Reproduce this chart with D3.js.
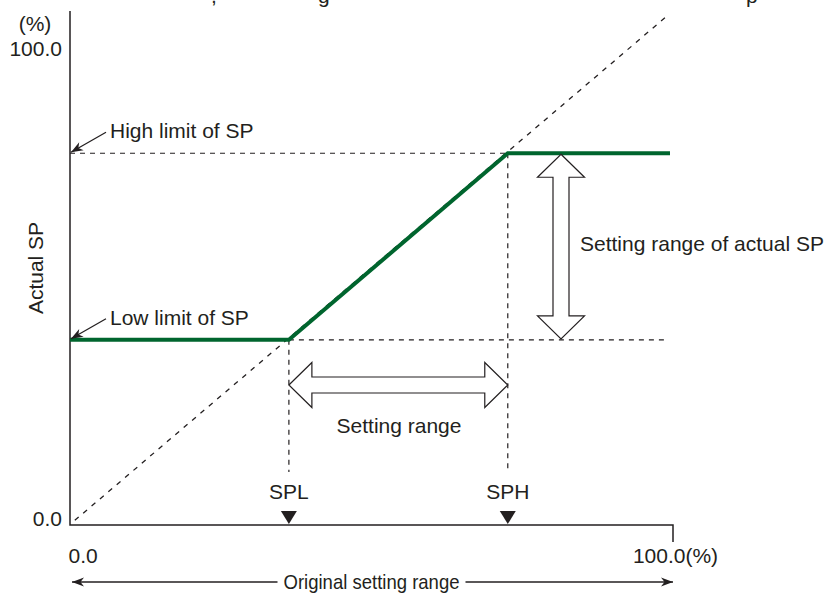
<!DOCTYPE html>
<html><head><meta charset="utf-8">
<script src="https://cdn.jsdelivr.net/npm/d3@7"></script>
<style>
body{margin:0;background:#fff}
svg{display:block;font-family:"Liberation Sans",Arial,Helvetica,sans-serif}
</style>
</head><body>
<svg id="c" width="830" height="593"></svg>
<script>
// ---- data ----
const xTickValues = [0, 100];
const xTickLabels = ["0.0", "100.0(%)"];
const yTickValues = [0, 100];
const yTickLabels = ["0.0", "100.0"];
const spMarkers = ["SPL", "SPH"];
const spValues = [36.3, 72.6];
const limitNames = ["Low limit of SP", "High limit of SP"];
const limitValues = [39.4, 79.1];
const actualSPx = [0, 36.3, 72.6, 99.5];
const actualSPy = [39.4, 39.4, 79.1, 79.1];
const identityX = [0.8, 99.2];
const identityY = [1.0, 108.5];

// ---- layout ----
const ink = "#231f20";
const green = "#00652e";
const svg = d3.select("#c");
const x = d3.scaleLinear().domain([0, 100]).range([70, 673]);
const y = d3.scaleLinear().domain([0, 100]).range([525, 55]);
const fs = 21;

const defs = svg.append("defs");
defs.append("marker").attr("id", "ah").attr("viewBox", "-13 -6 14 12")
  .attr("refX", 0).attr("refY", 0).attr("markerWidth", 14).attr("markerHeight", 12)
  .attr("markerUnits", "userSpaceOnUse").attr("orient", "auto")
  .append("path").attr("d", "M0,0 L-12,-4.5 L-8.5,0 L-12,4.5 Z").attr("fill", ink);

// cut-off text fragments from the line above (only their descenders are visible)
const frag = [[211, ","], [318, "g"], [746, "p"]];
svg.selectAll("text.frag").data(frag).join("text").attr("class", "frag")
  .attr("x", d => d[0]).attr("y", 3).attr("font-size", fs).attr("fill", ink).text(d => d[1]);

// identity diagonal
const line = d3.line().x(d => x(d[0])).y(d => y(d[1]));
svg.append("path").datum(identityX.map((v, i) => [v, identityY[i]]))
  .attr("d", line).attr("fill", "none").attr("stroke", ink).attr("stroke-width", 1.3)
  .attr("stroke-dasharray", "5,6");

// dashed guides
const dash = (x1, y1, x2, y2) => svg.append("line").attr("x1", x1).attr("y1", y1).attr("x2", x2).attr("y2", y2)
  .attr("stroke", ink).attr("stroke-width", 1.2).attr("stroke-dasharray", "5,5");
dash(x(0), y(limitValues[1]), x(spValues[1]), y(limitValues[1]));
dash(x(spValues[0]), y(limitValues[0]), x(98.6), y(limitValues[0]));
spValues.forEach((v, i) => dash(x(v), y(limitValues[i]), x(v), 472));

// axes
const yAxis = svg.append("g").attr("transform", `translate(${x(0)},0)`)
  .call(d3.axisLeft(y).tickValues(yTickValues).tickSize(0).tickPadding(8)
    .tickFormat((d, i) => yTickLabels[i]));
yAxis.select(".domain").remove();
yAxis.selectAll("text").attr("font-size", fs).attr("fill", ink).attr("dy", 0)
  .attr("font-family", "Liberation Sans, Arial, sans-serif");

const xAxis = svg.append("g").attr("transform", `translate(0,${y(0)})`)
  .call(d3.axisBottom(x).tickValues(xTickValues).tickSize(0).tickPadding(0)
    .tickFormat((d, i) => xTickLabels[i]));
xAxis.select(".domain").remove();
xAxis.selectAll("text").attr("font-size", fs).attr("fill", ink).attr("dy", 0)
  .attr("y", 38).attr("font-family", "Liberation Sans, Arial, sans-serif")
  .attr("text-anchor", (d, i) => i === 0 ? "start" : "middle")
  .attr("dx", (d, i) => i === 0 ? -2 : 2);

svg.append("path")
  .attr("d", `M${x(0)},11 V${y(0)} H${x(100)} V542`)
  .attr("fill", "none").attr("stroke", ink).attr("stroke-width", 1.5);

svg.append("text").attr("x", 35).attr("y", 31).attr("text-anchor", "middle")
  .attr("font-size", fs).attr("fill", ink).text("(%)");
svg.append("text").attr("transform", "translate(43,268) rotate(-90)")
  .attr("text-anchor", "middle").attr("font-size", fs).attr("fill", ink).text("Actual SP");

// actual SP green line
svg.append("path").datum(actualSPx.map((v, i) => [v, actualSPy[i]]))
  .attr("d", line).attr("fill", "none").attr("stroke", green).attr("stroke-width", 4)
  .attr("stroke-linejoin", "miter");

// limit annotations
limitValues.forEach((v, i) => {
  const ty = y(v);
  svg.append("line").attr("x1", 106).attr("y1", ty - 21).attr("x2", x(0) + 1).attr("y2", ty - 1)
    .attr("stroke", ink).attr("stroke-width", 1.2).attr("marker-end", "url(#ah)");
  svg.append("text").attr("x", 110).attr("y", ty - 15).attr("font-size", fs).attr("fill", ink)
    .text(limitNames[i]);
});

// SPL / SPH markers
spValues.forEach((v, i) => {
  const cx = x(v);
  svg.append("text").attr("x", cx).attr("y", 499).attr("text-anchor", "middle")
    .attr("font-size", fs).attr("fill", ink).text(spMarkers[i]);
  svg.append("path").attr("d", `M${cx - 8},511 L${cx + 8},511 L${cx},524 Z`).attr("fill", ink);
});

// double-headed hollow arrows
function dblArrow(x1, y1, x2, y2, headLen, headHalf, shaftHalf) {
  const len = Math.hypot(x2 - x1, y2 - y1);
  const ang = Math.atan2(y2 - y1, x2 - x1) * 180 / Math.PI;
  const p = [[0, 0], [headLen, -headHalf], [headLen, -shaftHalf], [len - headLen, -shaftHalf],
    [len - headLen, -headHalf], [len, 0], [len - headLen, headHalf], [len - headLen, shaftHalf],
    [headLen, shaftHalf], [headLen, headHalf]];
  svg.append("path").attr("transform", `translate(${x1},${y1}) rotate(${ang})`)
    .attr("d", "M" + p.map(q => q.join(",")).join("L") + "Z")
    .attr("fill", "#fff").attr("stroke", ink).attr("stroke-width", 1.2).attr("stroke-linejoin", "miter");
}
dblArrow(561, y(limitValues[1]) + 1, 561, y(limitValues[0]) - 1, 23, 23.5, 8);
dblArrow(x(spValues[0]), 385, x(spValues[1]), 385, 23, 22.5, 8);

svg.append("text").attr("x", 580).attr("y", 251).attr("font-size", fs).attr("fill", ink)
  .text("Setting range of actual SP");
svg.append("text").attr("x", 399).attr("y", 433).attr("text-anchor", "middle")
  .attr("font-size", fs).attr("fill", ink).text("Setting range");

// original setting range arrow
const oy = 582, tx = (x(0) + x(100)) / 2, tw = 176;
svg.append("line").attr("x1", tx - tw / 2 - 6).attr("y1", oy).attr("x2", x(0) + 2).attr("y2", oy)
  .attr("stroke", ink).attr("stroke-width", 1.3).attr("marker-end", "url(#ah)");
svg.append("line").attr("x1", tx + tw / 2 + 6).attr("y1", oy).attr("x2", x(100)).attr("y2", oy)
  .attr("stroke", ink).attr("stroke-width", 1.3).attr("marker-end", "url(#ah)");
svg.append("text").attr("x", tx).attr("y", oy + 7).attr("text-anchor", "middle")
  .attr("font-size", fs).attr("fill", ink).attr("textLength", tw).attr("lengthAdjust", "spacingAndGlyphs")
  .text("Original setting range");
</script>
</body></html>
